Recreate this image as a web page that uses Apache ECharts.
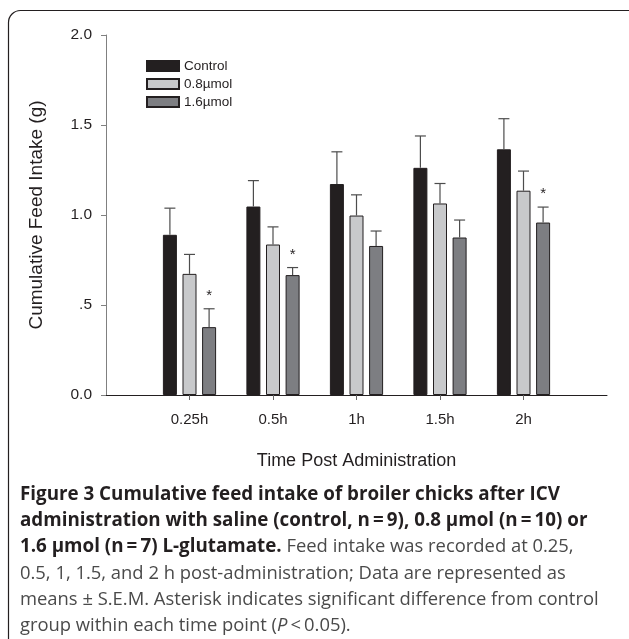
<!DOCTYPE html>
<html>
<head>
<meta charset="utf-8">
<script src="https://cdn.jsdelivr.net/npm/echarts@6/dist/echarts.min.js"></script>
<style>
  html, body { margin: 0; padding: 0; background: #fff; }
  #chart { width: 629px; height: 639px; }
</style>
</head>
<body>
<div id="chart"></div>
<script>
// time points
const categories = ['0.25h', '0.5h', '1h', '1.5h', '2h'];
// group means (g) and mean + S.E.M.
const controlMean = [0.89, 1.047, 1.172, 1.262, 1.365];
const controlTop = [1.038, 1.191, 1.351, 1.439, 1.535];
const lowMean = [0.673, 0.836, 0.997, 1.064, 1.135];
const lowTop = [0.781, 0.934, 1.112, 1.175, 1.244];
const highMean = [0.377, 0.666, 0.828, 0.875, 0.958];
const highTop = [0.479, 0.708, 0.911, 0.972, 1.044];
// asterisk on the 1.6 µmol bar
const highSig = [true, true, false, false, true];
const seriesNames = ['Control', '0.8µmol', '1.6µmol'];
const yTicks = ['0.0', '.5', '1.0', '1.5', '2.0'];

const font = '"Liberation Sans", Arial, sans-serif';
const capFont = '"Open Sans", sans-serif';
const barW = 14;
const barGapPx = 5.6;

// pad the axis with an empty slot at both ends so bars sit on ticks
const axisData = [''].concat(categories, ['']);
const pad = arr => ['-'].concat(arr, ['-']);

const errData = [];
[[controlMean, controlTop], [lowMean, lowTop], [highMean, highTop]].forEach((pair, g) => {
  categories.forEach((c, i) => {
    errData.push([i + 1, g, pair[0][i], pair[1][i], g === 2 && highSig[i] ? 1 : 0]);
  });
});

const chart = echarts.init(document.getElementById('chart'));

const caption =
  '{b|Figure 3 Cumulative feed intake of broiler chicks after ICV}\n' +
  '{b|administration with saline (control, n\u2009=\u20099), 0.8 µmol (n\u2009=\u200910) or}\n' +
  '{b|1.6 µmol (n\u2009=\u20097) L-glutamate.}{r| Feed intake was recorded at 0.25,}\n' +
  '{r|0.5, 1, 1.5, and 2 h post-administration; Data are represented as}\n' +
  '{r|means ± S.E.M. Asterisk indicates significant difference from control}\n' +
  '{r|group within each time point (}{i|P}{r|\u2009<\u20090.05).}';

const option = {
  animation: false,
  grid: { left: 106, right: 22, top: 35, bottom: 244 },
  legend: {
    orient: 'vertical',
    left: 141,
    top: 54,
    icon: 'rect',
    itemWidth: 32,
    itemHeight: 10,
    itemGap: 4,
    data: seriesNames,
    textStyle: { fontFamily: font, fontSize: 13.5, color: '#231f20' }
  },
  xAxis: {
    type: 'category',
    data: axisData,
    boundaryGap: false,
    name: 'Time Post Administration',
    nameLocation: 'middle',
    nameGap: 57,
    nameTextStyle: { fontFamily: font, fontSize: 18, color: '#231f20' },
    axisLine: { lineStyle: { color: '#231f20', width: 1 } },
    axisTick: {
      length: 5,
      interval: (idx, val) => val !== '',
      lineStyle: { color: '#666' }
    },
    axisLabel: {
      interval: 0,
      margin: 17,
      fontFamily: font,
      fontSize: 15,
      color: '#231f20'
    },
    splitLine: { show: false }
  },
  yAxis: {
    type: 'value',
    min: 0,
    max: 2,
    interval: 0.5,
    name: 'Cumulative Feed Intake (g)',
    nameLocation: 'middle',
    nameGap: 60,
    nameTextStyle: { fontFamily: font, fontSize: 19, color: '#231f20' },
    axisLine: { show: true, lineStyle: { color: '#808080', width: 1 } },
    axisTick: { show: true, length: 5, lineStyle: { color: '#808080' } },
    axisLabel: {
      margin: 14,
      fontFamily: font,
      fontSize: 15.5,
      color: '#231f20',
      formatter: v => yTicks[Math.round(v / 0.5)]
    },
    splitLine: { show: false }
  },
  series: [
    {
      name: seriesNames[0],
      type: 'bar',
      barWidth: barW,
      barGap: (barGapPx / barW * 100) + '%',
      data: pad(controlMean),
      itemStyle: { color: '#231f20', borderColor: '#231f20', borderWidth: 1 }
    },
    {
      name: seriesNames[1],
      type: 'bar',
      barWidth: barW,
      data: pad(lowMean),
      itemStyle: { color: '#c8c9cb', borderColor: '#231f20', borderWidth: 1 }
    },
    {
      name: seriesNames[2],
      type: 'bar',
      barWidth: barW,
      data: pad(highMean),
      itemStyle: { color: '#7d7e82', borderColor: '#231f20', borderWidth: 1 }
    },
    {
      type: 'custom',
      z: 5,
      silent: true,
      data: errData,
      renderItem: (params, api) => {
        const cat = api.value(0);
        const g = api.value(1);
        const off = (g - 1) * (barW + barGapPx);
        const base = api.coord([cat, api.value(2)]);
        const top = api.coord([cat, api.value(3)]);
        const x = base[0] + off;
        const stroke = { stroke: '#4d4d4d', lineWidth: 1.2 };
        const children = [
          { type: 'line', shape: { x1: x, y1: base[1], x2: x, y2: top[1] }, style: stroke },
          { type: 'line', shape: { x1: x - 5.5, y1: top[1], x2: x + 5.5, y2: top[1] }, style: stroke }
        ];
        if (api.value(4)) {
          children.push({
            type: 'text',
            style: {
              text: '*',
              x: x,
              y: top[1] - 13,
              align: 'center',
              verticalAlign: 'middle',
              fontFamily: font,
              fontSize: 15,
              fill: '#231f20'
            }
          });
        }
        return { type: 'group', children: children };
      }
    }
  ],
  graphic: [
    {
      type: 'rect',
      shape: { x: 8.5, y: 10.5, width: 660, height: 680, r: [12, 0, 0, 0] },
      style: { fill: 'none', stroke: '#231f20', lineWidth: 1.2 },
      silent: true
    },
    {
      type: 'text',
      left: 20,
      top: 485,
      style: {
        text: caption,
        rich: {
          b: { fontFamily: capFont, fontWeight: 'bold', fontSize: 18.8, lineHeight: 26.3, fill: '#231f20' },
          r: { fontFamily: capFont, fontSize: 18.4, lineHeight: 26.3, fill: '#4a4a4a' },
          i: { fontFamily: capFont, fontStyle: 'italic', fontSize: 18.4, lineHeight: 26.3, fill: '#4a4a4a' }
        }
      }
    }
  ]
};

chart.setOption(option);
</script>
</body>
</html>
